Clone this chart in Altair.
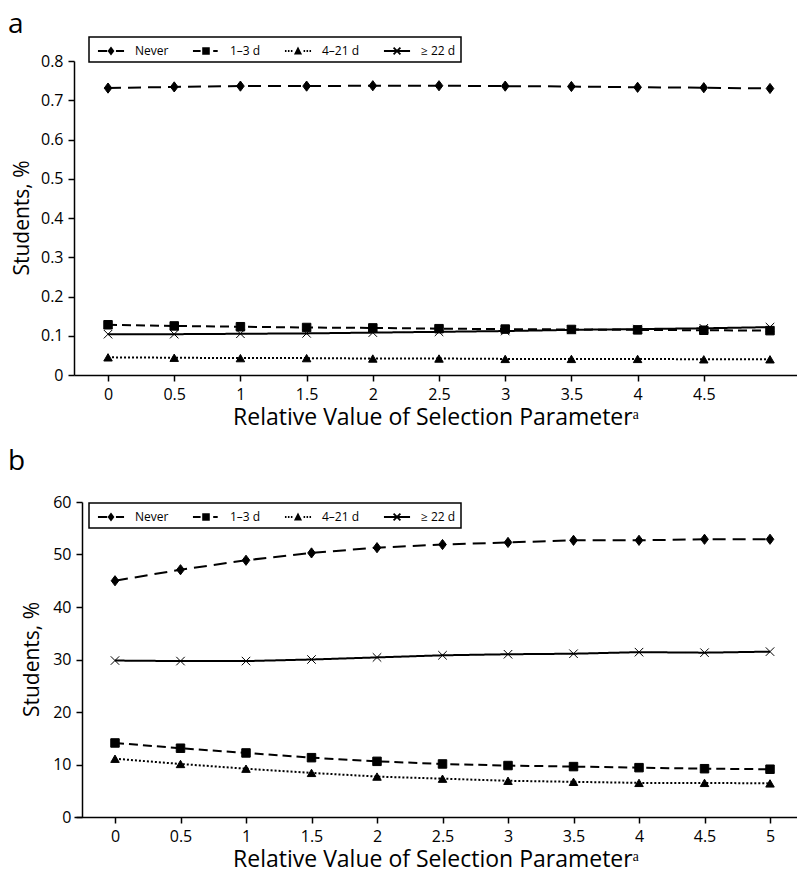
import altair as alt
import pandas as pd

FONT = "Open Sans"

x_vals = [0, 0.5, 1, 1.5, 2, 2.5, 3, 3.5, 4, 4.5, 5]
series = ["Never", "1–3 d", "4–21 d", "≥ 22 d"]

# Panel a (proportions)
a_never = [0.731, 0.734, 0.736, 0.736, 0.737, 0.737, 0.736, 0.735, 0.733, 0.732, 0.730]
a_13d = [0.128, 0.125, 0.123, 0.121, 0.120, 0.118, 0.117, 0.116, 0.115, 0.114, 0.113]
a_421d = [0.045, 0.044, 0.043, 0.043, 0.042, 0.042, 0.041, 0.041, 0.041, 0.040, 0.040]
a_22d = [0.104, 0.104, 0.105, 0.106, 0.108, 0.110, 0.112, 0.115, 0.117, 0.119, 0.122]

# Panel b (percent)
b_never = [45.0, 47.1, 48.9, 50.3, 51.3, 51.9, 52.3, 52.7, 52.7, 52.9, 52.9]
b_13d = [14.1, 13.1, 12.2, 11.3, 10.6, 10.1, 9.8, 9.6, 9.4, 9.2, 9.1]
b_421d = [11.1, 10.1, 9.2, 8.4, 7.7, 7.3, 6.9, 6.7, 6.5, 6.5, 6.4]
b_22d = [29.8, 29.7, 29.7, 30.0, 30.4, 30.8, 31.0, 31.1, 31.4, 31.3, 31.5]

a_ticks_x = [0, 0.5, 1, 1.5, 2, 2.5, 3, 3.5, 4, 4.5]
b_ticks_x = [0, 0.5, 1, 1.5, 2, 2.5, 3, 3.5, 4, 4.5, 5]
a_ticks_y = [0, 0.1, 0.2, 0.3, 0.4, 0.5, 0.6, 0.7, 0.8]
b_ticks_y = [0, 10, 20, 30, 40, 50, 60]


def long_df(cols):
    rows = []
    for name, vals in zip(series, cols):
        for xv, yv in zip(x_vals, vals):
            rows.append({"x": xv, "y": yv, "series": name})
    return pd.DataFrame(rows)


df_a = long_df([a_never, a_13d, a_421d, a_22d])
df_b = long_df([b_never, b_13d, b_421d, b_22d])

dash_range = [[13, 7], [9, 5], [2, 2], [1, 0]]
width_range = [2, 2, 2, 1.8]
point_shapes = [
    "M0,-1.2L0.9,0L0,1.2L-0.9,0Z",
    "square",
    "triangle-up",
    "M-1,-1L1,1M-1,1L1,-1",
]


# legend key glyphs (line sample + marker), drawn as filled outlines
def seg(x1, x2, t=0.1):
    return f"M{x1},{-t}H{x2}V{t}H{x1}Z"


legend_paths = [
    seg(-1.45, -0.42) + "M0,-0.5L0.38,0L0,0.5L-0.38,0Z" + seg(0.55, 1.45),
    seg(-1.45, -0.6) + "M-0.42,-0.42H0.42V0.42H-0.42Z" + seg(0.8, 1.3),
    seg(-1.45, -1.28) + seg(-1.12, -0.95) + seg(-0.79, -0.62)
    + "M0,-0.5L0.45,0.4L-0.45,0.4Z"
    + seg(0.62, 0.79) + seg(0.95, 1.12) + seg(1.28, 1.45),
    seg(-1.45, 1.45)
    + "M-0.31,-0.45L0.45,0.31L0.31,0.45L-0.45,-0.31Z"
    + "M-0.31,0.45L-0.45,0.31L0.31,-0.45L0.45,-0.31Z",
]

X_TITLE = "Relative Value of Selection Parameterᵃ"
Y_TITLE = "Students, %"


def panel(df, label, width, height, xdom, ydom, xt, yt, yfmt, yoff, ytitle_x, lx, ly, lab_dx, lab_dy):
    xenc = alt.X(
        "x:Q",
        scale=alt.Scale(domain=xdom, nice=False, zero=False),
        axis=alt.Axis(values=xt, format="~g", title=X_TITLE, grid=False,
                      labelPadding=5, titlePadding=4),
    )
    yenc = alt.Y(
        "y:Q",
        scale=alt.Scale(domain=ydom, nice=False),
        axis=alt.Axis(values=yt, format=yfmt, title=None, grid=False, labelPadding=5, offset=yoff),
    )
    base = alt.Chart(df)
    lines = base.mark_line(color="black").encode(
        x=xenc,
        y=yenc,
        detail="series:N",
        strokeDash=alt.StrokeDash("series:N", scale=alt.Scale(domain=series, range=dash_range), legend=None),
        strokeWidth=alt.StrokeWidth("series:N", scale=alt.Scale(domain=series, range=width_range), legend=None),
    )
    points = base.mark_point(filled=True, color="black", stroke="black", strokeWidth=1, size=72, opacity=1).encode(
        x=xenc,
        y=yenc,
        shape=alt.Shape("series:N", scale=alt.Scale(domain=series, range=point_shapes), legend=None),
    )
    leg = base.transform_filter(alt.datum.x == 0).mark_point(
        filled=True, color="black", opacity=0
    ).encode(
        x=xenc,
        y=yenc,
        shape=alt.Shape(
            "series:N",
            scale=alt.Scale(domain=series, range=legend_paths),
            legend=alt.Legend(
                title=None, orient="none", legendX=lx, legendY=ly, direction="horizontal",
                symbolSize=324, symbolOpacity=1, symbolStrokeWidth=0,
                symbolFillColor="black",
                symbolOffset=8, labelOffset=15,
                labelFont=FONT, labelFontSize=12, labelColor="black",
                columnPadding=20, padding=5, strokeColor="black",
            ),
        ),
    )
    lab = alt.Chart(pd.DataFrame({"t": [label]})).mark_text(
        align="left", baseline="top", fontSize=28, font=FONT, color="black"
    ).encode(x=alt.value(lab_dx), y=alt.value(lab_dy), text="t:N")
    ytitle = alt.Chart(pd.DataFrame({"t": [Y_TITLE]})).mark_text(
        align="center", baseline="alphabetic", angle=270, fontSize=21, font=FONT, color="black"
    ).encode(x=alt.value(ytitle_x), y=alt.value(height / 2), text="t:N")
    return alt.layer(lines, points, leg, lab, ytitle).resolve_scale(shape="independent").properties(
        width=width, height=height
    )


pa = panel(df_a, "a", 723, 314, [-0.257, 5.204], [0, 0.8], a_ticks_x, a_ticks_y, "~g",
           0, -45, 15, -24, -66, -50)
pb = panel(df_b, "b", 723, 315, [-0.313, 5.206], [0, 60], b_ticks_x, b_ticks_y, "d",
           -8, -35, 15, 1, -66, -54)

chart = alt.concat(pa, pb, columns=1, spacing=19,
                   padding={"top": 3, "left": 0, "right": 0, "bottom": 6}).configure_view(
    stroke=None
).configure_axis(
    domainColor="black", domainWidth=1.5, tickColor="black", tickWidth=1.5, tickSize=6,
    labelColor="black", titleColor="black", labelFont=FONT, titleFont=FONT,
    labelFontSize=16, titleFontSize=23, titleFontWeight="normal",
).configure_legend(strokeWidth=1.5)

chart.save("out.html", embed_options={"renderer": "svg", "actions": False})
